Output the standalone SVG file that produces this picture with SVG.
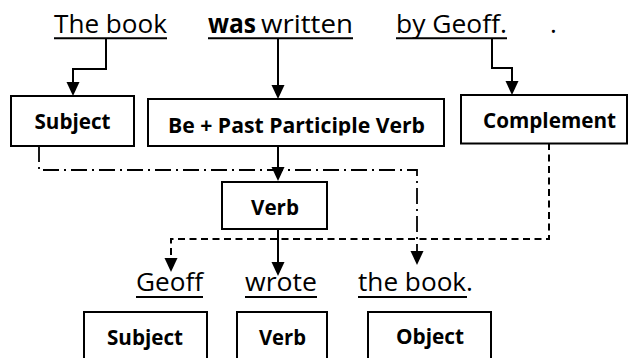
<svg xmlns="http://www.w3.org/2000/svg" width="631" height="358" viewBox="0 0 631 358">
  <style>
    .box { fill: #fff; stroke: #000; stroke-width: 2; }
    .lbl { font-family: "Open Sans", "Noto Sans", "Liberation Sans", sans-serif; font-weight: bold; font-size: 20.5px; fill: #000; text-anchor: middle; }
    .word { font-family: "Open Sans", "Noto Sans", "Liberation Sans", sans-serif; font-size: 26px; fill: #000; }
    .ul { stroke: #000; stroke-width: 2; fill: none; }
    .con { stroke: #000; stroke-width: 2; fill: none; }
    .dash { stroke-dasharray: 7 4.5; }
    .dashdot { stroke-dasharray: 16 5 2 5; stroke-width: 1.8; }
  </style>
  <defs>
    <marker id="arrow" markerUnits="userSpaceOnUse" markerWidth="15" markerHeight="14" refX="4" refY="6.5" orient="auto" viewBox="0 0 15 14">
      <path d="M0,0 L14,6.5 L0,13 Z" fill="#000"/>
    </marker>
    <clipPath id="clipBe">
      <rect x="148" y="99" width="296" height="36.5"/>
    </clipPath>
  </defs>
  <rect width="631" height="358" fill="#fff"/>

  <g id="sentence-passive">
    <text class="word" x="54" y="33" textLength="113" lengthAdjust="spacingAndGlyphs">The book</text>
    <line class="ul" x1="54" y1="38.3" x2="167" y2="38.3"/>
    <text class="word" y="33"><tspan x="208" font-weight="bold" textLength="48" lengthAdjust="spacingAndGlyphs">was</tspan><tspan x="261" textLength="92" lengthAdjust="spacingAndGlyphs">written</tspan></text>
    <line class="ul" x1="208" y1="38.3" x2="353" y2="38.3"/>
    <text class="word" x="396" y="33" textLength="111" lengthAdjust="spacingAndGlyphs">by Geoff.</text>
    <line class="ul" x1="396" y1="38.3" x2="507" y2="38.3"/>
    <text class="word" x="550" y="33">.</text>
  </g>

  <g id="node-subject-top">
    <rect class="box" x="11" y="96" width="123" height="50"/>
    <text class="lbl" x="72.5" y="129" textLength="76" lengthAdjust="spacingAndGlyphs">Subject</text>
  </g>
  <g id="node-be-pp">
    <rect class="box" x="148" y="99" width="296" height="47"/>
    <text class="lbl" x="296.5" y="133" textLength="257" lengthAdjust="spacingAndGlyphs" clip-path="url(#clipBe)">Be + Past Participle Verb</text>
  </g>
  <g id="node-complement">
    <rect class="box" x="461" y="95" width="166" height="48.5"/>
    <text class="lbl" x="549.5" y="128" textLength="133" lengthAdjust="spacingAndGlyphs">Complement</text>
  </g>
  <g id="node-verb-mid">
    <rect class="box" x="222" y="182" width="105" height="47"/>
    <text class="lbl" x="275" y="215" textLength="48" lengthAdjust="spacingAndGlyphs">Verb</text>
  </g>

  <g id="sentence-active">
    <text class="word" x="136" y="291" textLength="67" lengthAdjust="spacingAndGlyphs">Geoff</text>
    <line class="ul" x1="136" y1="297" x2="203" y2="297"/>
    <text class="word" x="245" y="291" textLength="72" lengthAdjust="spacingAndGlyphs">wrote</text>
    <line class="ul" x1="245" y1="297" x2="317" y2="297"/>
    <text class="word" x="358" y="291" textLength="115" lengthAdjust="spacingAndGlyphs">the book.</text>
    <line class="ul" x1="358" y1="297" x2="467" y2="297"/>
  </g>

  <g id="node-subject-bottom">
    <rect class="box" x="84" y="312" width="123" height="60"/>
    <text class="lbl" x="145" y="345" textLength="76" lengthAdjust="spacingAndGlyphs">Subject</text>
  </g>
  <g id="node-verb-bottom">
    <rect class="box" x="237" y="312" width="90" height="60"/>
    <text class="lbl" x="282.5" y="345" textLength="47" lengthAdjust="spacingAndGlyphs">Verb</text>
  </g>
  <g id="node-object-bottom">
    <rect class="box" x="368" y="312" width="123" height="60"/>
    <text class="lbl" x="430" y="344" textLength="68" lengthAdjust="spacingAndGlyphs">Object</text>
  </g>

  <g id="connectors">
    <path class="con" d="M106,39 V69 H73 V86" marker-end="url(#arrow)"/>
    <path class="con" d="M278,39 V89" marker-end="url(#arrow)"/>
    <path class="con" d="M492,39 V68 H512 V85" marker-end="url(#arrow)"/>
    <path class="con" d="M278,146 V171" marker-end="url(#arrow)"/>
    <path class="con" d="M278,229 V266" marker-end="url(#arrow)"/>
    <path class="con dashdot" d="M39,146 V170 H417 V255" marker-end="url(#arrow)"/>
    <path class="con dash" d="M549,143 V239 H171 V262" marker-end="url(#arrow)"/>
  </g>
</svg>
